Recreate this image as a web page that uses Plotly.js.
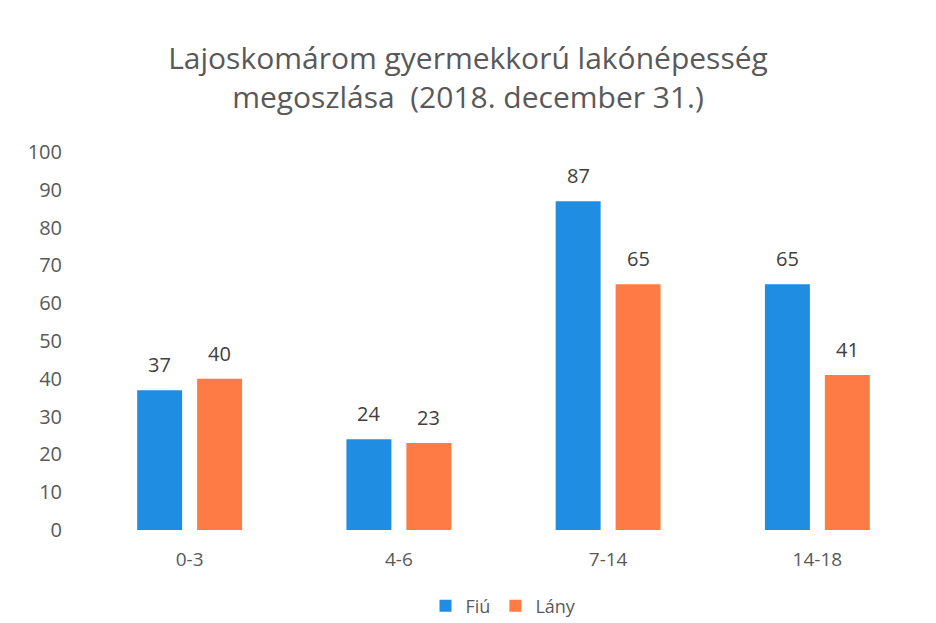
<!DOCTYPE html>
<html>
<head>
<meta charset="utf-8">
<script src="https://cdn.plot.ly/plotly-3.0.1.min.js"></script>
<style>html,body{margin:0;padding:0;background:#fff}#chart{width:936px;height:623px}</style>
</head>
<body>
<div id="chart"></div>
<script>
const categories = ["0-3", "4-6", "7-14", "14-18"];
const fiu = [37, 24, 87, 65];
const lany = [40, 23, 65, 41];
const seriesNames = ["Fiú", "Lány"];
const yTicks = [0, 10, 20, 30, 40, 50, 60, 70, 80, 90, 100];

const font = "Open Sans, Noto Sans, sans-serif";
const labelFont = {family: font, size: 20, color: "#404040"};
const traces = [
  {type: "bar", name: seriesNames[0], x: categories, y: fiu, marker: {color: "#1F8DE2"}},
  {type: "bar", name: seriesNames[1], x: categories, y: lany, marker: {color: "#FF7B46"}}
];
const annotations = [];
categories.forEach((c, i) => {
  annotations.push({x: c, y: fiu[i], xref: "x", yref: "y", text: String(fiu[i]), showarrow: false,
    xshift: -30, yshift: 10, yanchor: "bottom", font: labelFont});
  annotations.push({x: c, y: lany[i], xref: "x", yref: "y", text: String(lany[i]), showarrow: false,
    xshift: 30, yshift: 10, yanchor: "bottom", font: labelFont});
});
const layout = {
  width: 936, height: 623,
  margin: {l: 85, r: 14, t: 152, b: 93, autoexpand: false},
  paper_bgcolor: "#fff", plot_bgcolor: "#fff",
  font: {family: font, color: "#595959"},
  title: {text: "Lajoskomárom gyermekkorú lakónépesség<br>megoszlása  (2018. december 31.)",
          font: {family: font, size: 30, color: "#595959"}, x: 0.5, xanchor: "center", y: 0.89, yanchor: "middle"},
  barmode: "group", bargap: 0.427, bargroupgap: 0.25,
  annotations: annotations,
  xaxis: {type: "category", showgrid: false, zeroline: false, showline: false, ticks: "", automargin: false,
          ticklabelstandoff: 16, tickfont: {family: font, size: 19, color: "#595959"}},
  yaxis: {range: [0, 100], tickvals: yTicks, showgrid: false, zeroline: false, showline: false, automargin: false,
          ticks: "", ticklabelstandoff: 22, tickfont: {family: font, size: 20, color: "#595959"}},
  legend: {orientation: "h", x: 0.5, xanchor: "center", y: -0.152, yanchor: "top",
           font: {family: font, size: 18, color: "#595959"}, itemwidth: 30, traceorder: "normal"},
  showlegend: true
};
Plotly.newPlot("chart", traces, layout, {displayModeBar: false, staticPlot: true});
</script>
</body>
</html>
